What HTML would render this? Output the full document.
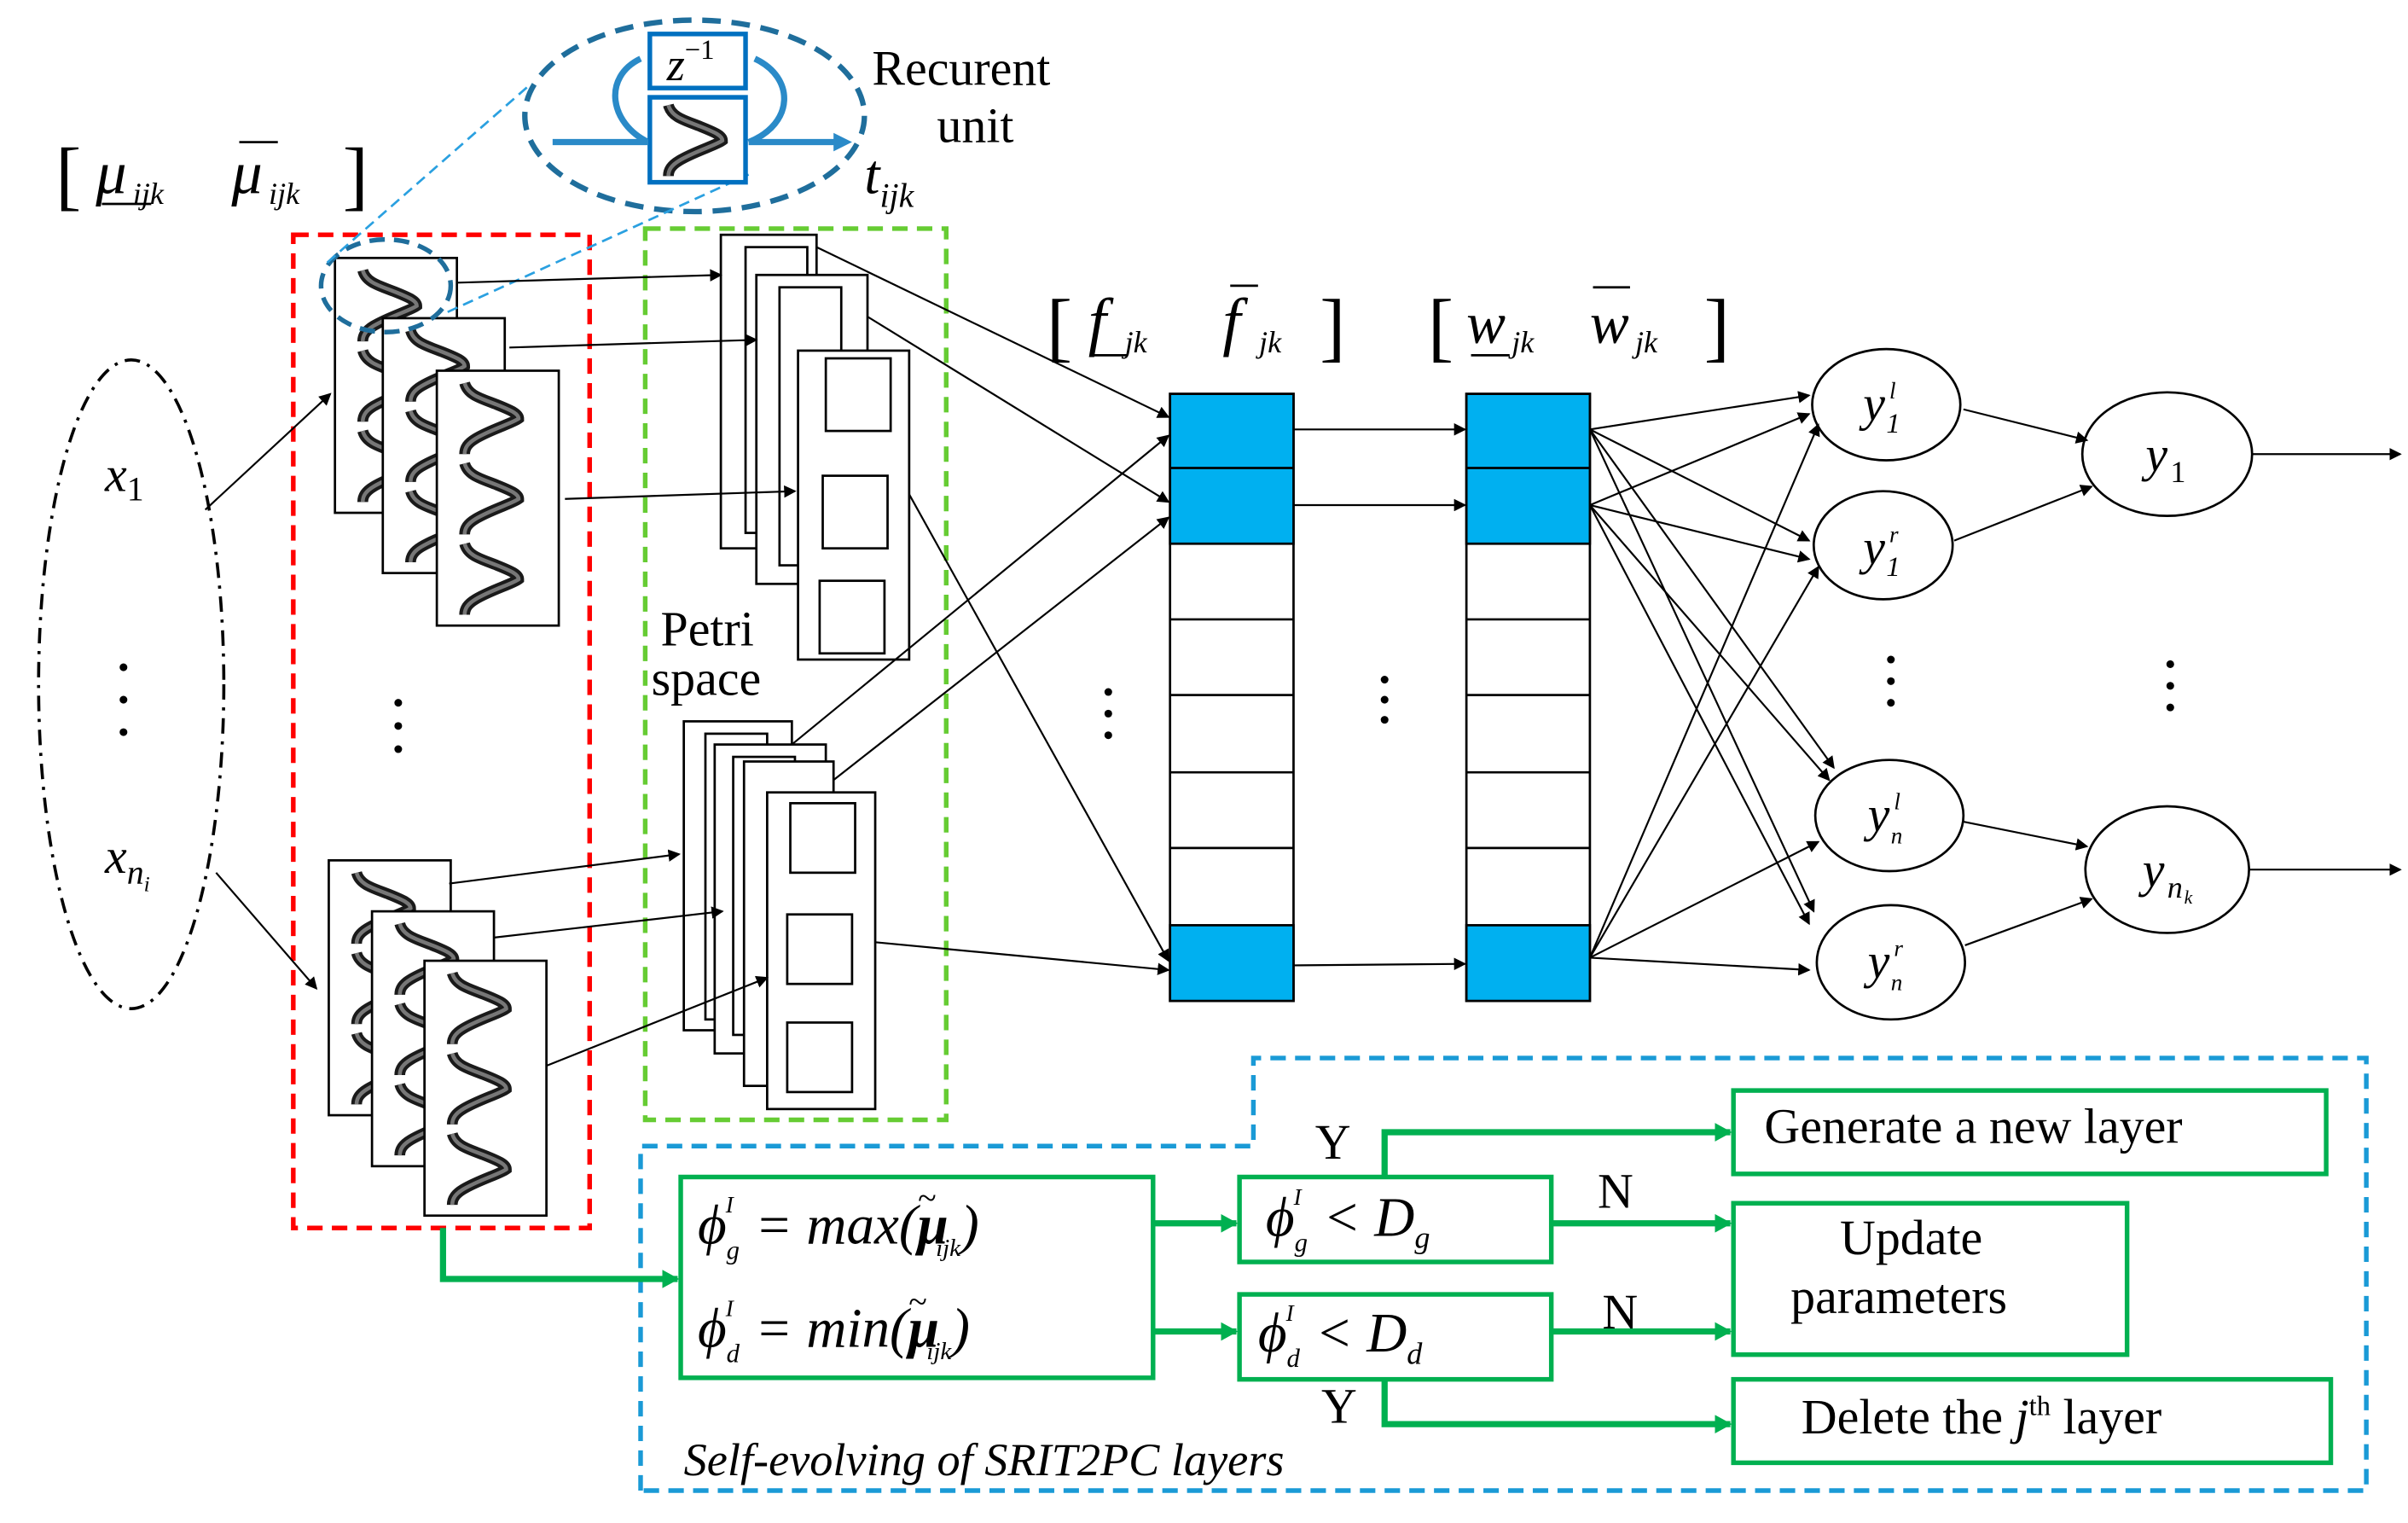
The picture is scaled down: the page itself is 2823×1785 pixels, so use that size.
<!DOCTYPE html>
<html><head><meta charset="utf-8"><style>html,body{margin:0;padding:0;background:#fff}svg{display:block}</style></head>
<body>
<svg width="2823" height="1785" viewBox="0 0 1560 986" preserveAspectRatio="none" xmlns="http://www.w3.org/2000/svg" font-family="'Liberation Serif', serif">
<defs>
<marker id="a" markerWidth="8" markerHeight="8" refX="7" refY="4" orient="auto" markerUnits="userSpaceOnUse"><path d="M0,0 L8,4 L0,8 z" fill="#000"/></marker>
<marker id="g" markerWidth="12" markerHeight="12" refX="10" refY="6" orient="auto" markerUnits="userSpaceOnUse"><path d="M0,0 L11,6 L0,12 z" fill="#00b050"/></marker>
<g id="sig"><path d="M3,2 C5,10 14,12 24,16 C34,20 38,22 38,25 C34,28 20,32 10,38 C5,41 3,44 3,48" fill="none" stroke="#1a1a1a" stroke-width="7"/><path d="M3,2 C5,10 14,12 24,16 C34,20 38,22 38,25 C34,28 20,32 10,38 C5,41 3,44 3,48" fill="none" stroke="#777" stroke-width="2.5"/></g>
<g id="mb"><rect x="0" y="0" width="79" height="165" fill="#fff" stroke="#000" stroke-width="1.5"/><use href="#sig" x="15" y="6"/><use href="#sig" x="15" y="58"/><use href="#sig" x="15" y="110"/></g>
</defs>
<rect width="1560" height="986" fill="#fff"/>
<ellipse cx="85" cy="443" rx="60" ry="210" fill="none" stroke="#000" stroke-width="2" stroke-dasharray="10,5,2,5"/>
<text x="68" y="318" font-size="32" font-style="italic">x<tspan font-size="22" dy="6" font-style="normal">1</tspan></text>
<circle cx="80" cy="432" r="2.5"/><circle cx="80" cy="453" r="2.5"/><circle cx="80" cy="474" r="2.5"/>
<text x="68" y="565" font-size="32" font-style="italic">x<tspan font-size="22" dy="7">n</tspan><tspan font-size="14" dy="5">i</tspan></text>
<text x="36" y="130" font-size="50">[</text>
<text x="62" y="125" font-size="40" font-style="italic">μ<tspan font-size="20" dy="7" dx="4">ijk</tspan></text>
<line x1="66" y1="132" x2="98" y2="132" stroke="#000" stroke-width="1.5"/>
<text x="150" y="125" font-size="40" font-style="italic">μ<tspan font-size="20" dy="7" dx="4">ijk</tspan></text>
<line x1="155" y1="92" x2="180" y2="92" stroke="#000" stroke-width="1.5"/>
<text x="222" y="130" font-size="50">]</text>
<rect x="190" y="152" width="192" height="643" fill="none" stroke="#f00" stroke-width="3" stroke-dasharray="10,6"/>
<rect x="418" y="148" width="195" height="577" fill="none" stroke="#66cc33" stroke-width="3" stroke-dasharray="10,6"/>
<use href="#mb" x="217" y="167"/><use href="#mb" x="248" y="206"/><use href="#mb" x="283" y="240"/>
<use href="#mb" x="213" y="557"/><use href="#mb" x="241" y="590"/><use href="#mb" x="275" y="622"/>
<circle cx="258" cy="455" r="2.5"/><circle cx="258" cy="470" r="2.5"/><circle cx="258" cy="485" r="2.5"/>
<ellipse cx="450" cy="75" rx="110" ry="62" fill="none" stroke="#1f6e9c" stroke-width="3.5" stroke-dasharray="12,7"/>
<ellipse cx="250" cy="185" rx="42" ry="30" fill="none" stroke="#1f6e9c" stroke-width="3" stroke-dasharray="10,6"/>
<line x1="212" y1="170" x2="342" y2="56" stroke="#2aa0e0" stroke-width="1.5" stroke-dasharray="7,4"/>
<line x1="290" y1="202" x2="485" y2="113" stroke="#2aa0e0" stroke-width="1.5" stroke-dasharray="7,4"/>
<path d="M420,92 C395,80 390,50 415,38" fill="none" stroke="#2a8ac8" stroke-width="4"/>
<path d="M485,92 C515,80 515,50 489,38" fill="none" stroke="#2a8ac8" stroke-width="4"/>
<rect x="421" y="22" width="62" height="35" fill="#fff" stroke="#0070c0" stroke-width="3"/>
<text x="432" y="52" font-size="30" font-style="italic">z<tspan font-size="18" dy="-14" font-style="normal">−1</tspan></text>
<rect x="421" y="63" width="62" height="55" fill="#fff" stroke="#0070c0" stroke-width="3"/>
<use href="#sig" x="430" y="66"/>
<line x1="358" y1="92" x2="420" y2="92" stroke="#2a8ac8" stroke-width="4"/>
<line x1="485" y1="92" x2="545" y2="92" stroke="#2a8ac8" stroke-width="4"/>
<path d="M540,86 L552,92 L540,98z" fill="#2a8ac8"/>
<text x="565" y="55" font-size="32">Recurent</text>
<text x="607" y="92" font-size="32">unit</text>
<text x="560" y="125" font-size="36" font-style="italic">t<tspan font-size="22" dy="9">ijk</tspan></text>
<g fill="#fff" stroke="#000" stroke-width="1.5">
<rect x="467" y="152" width="62" height="203"/><rect x="483" y="160" width="40" height="185"/>
<rect x="490" y="178" width="72" height="200"/><rect x="505" y="186" width="40" height="180"/>
<rect x="517" y="227" width="72" height="200"/>
<rect x="535" y="232" width="42" height="47"/><rect x="533" y="308" width="42" height="47"/><rect x="531" y="376" width="42" height="47"/>
<rect x="443" y="467" width="70" height="200"/><rect x="457" y="475" width="40" height="185"/>
<rect x="463" y="482" width="72" height="200"/><rect x="475" y="490" width="40" height="180"/>
<rect x="482" y="493" width="58" height="210"/>
<rect x="497" y="513" width="70" height="205"/>
<rect x="512" y="520" width="42" height="45"/><rect x="510" y="592" width="42" height="45"/><rect x="510" y="662" width="42" height="45"/>
</g>
<text x="428" y="418" font-size="32">Petri</text>
<text x="422" y="450" font-size="32">space</text>
<g stroke="#000" stroke-width="1.5">
<rect x="758" y="255" width="80" height="393" fill="#fff"/>
<rect x="758" y="255" width="80" height="97" fill="#00b0f0"/><rect x="758" y="599" width="80" height="49" fill="#00b0f0"/>
<line x1="758" y1="303" x2="838" y2="303"/><line x1="758" y1="401" x2="838" y2="401"/><line x1="758" y1="450" x2="838" y2="450"/><line x1="758" y1="500" x2="838" y2="500"/><line x1="758" y1="549" x2="838" y2="549"/>
<rect x="950" y="255" width="80" height="393" fill="#fff"/>
<rect x="950" y="255" width="80" height="97" fill="#00b0f0"/><rect x="950" y="599" width="80" height="49" fill="#00b0f0"/>
<line x1="950" y1="303" x2="1030" y2="303"/><line x1="950" y1="401" x2="1030" y2="401"/><line x1="950" y1="450" x2="1030" y2="450"/><line x1="950" y1="500" x2="1030" y2="500"/><line x1="950" y1="549" x2="1030" y2="549"/>
</g>
<text x="678" y="228" font-size="50">[</text>
<text x="705" y="222" font-size="42" font-style="italic">f<tspan font-size="20" dy="6" dx="12">jk</tspan></text>
<line x1="708" y1="230" x2="730" y2="230" stroke="#000" stroke-width="1.5"/>
<text x="792" y="222" font-size="42" font-style="italic">f<tspan font-size="20" dy="6" dx="12">jk</tspan></text>
<line x1="797" y1="185" x2="815" y2="185" stroke="#000" stroke-width="1.5"/>
<text x="855" y="228" font-size="50">]</text>
<text x="925" y="228" font-size="50">[</text>
<text x="950" y="222" font-size="38" font-style="italic">w<tspan font-size="20" dy="6" dx="4">jk</tspan></text>
<line x1="953" y1="230" x2="978" y2="230" stroke="#000" stroke-width="1.5"/>
<text x="1030" y="222" font-size="38" font-style="italic">w<tspan font-size="20" dy="6" dx="4">jk</tspan></text>
<line x1="1032" y1="186" x2="1056" y2="186" stroke="#000" stroke-width="1.5"/>
<text x="1104" y="228" font-size="50">]</text>
<g fill="#000"><circle cx="718" cy="448" r="2.5"/><circle cx="718" cy="462" r="2.5"/><circle cx="718" cy="476" r="2.5"/>
<circle cx="897" cy="440" r="2.5"/><circle cx="897" cy="453" r="2.5"/><circle cx="897" cy="466" r="2.5"/>
<circle cx="1225" cy="427" r="2.5"/><circle cx="1225" cy="441" r="2.5"/><circle cx="1225" cy="455" r="2.5"/>
<circle cx="1406" cy="430" r="2.5"/><circle cx="1406" cy="444" r="2.5"/><circle cx="1406" cy="458" r="2.5"/></g>
<g fill="#fff" stroke="#000" stroke-width="1.5">
<ellipse cx="1222" cy="262" rx="48" ry="36"/><ellipse cx="1220" cy="353" rx="45" ry="35"/>
<ellipse cx="1224" cy="528" rx="48" ry="36"/><ellipse cx="1225" cy="623" rx="48" ry="37"/>
<ellipse cx="1404" cy="294" rx="55" ry="40"/><ellipse cx="1404" cy="563" rx="53" ry="41"/>
</g>
<g font-style="italic">
<text x="1207" y="272" font-size="32">y</text><text x="1222" y="280" font-size="18">1</text><text x="1224" y="258" font-size="15">l</text>
<text x="1207" y="365" font-size="32">y</text><text x="1222" y="373" font-size="18">1</text><text x="1224" y="351" font-size="15">r</text>
<text x="1210" y="538" font-size="32">y</text><text x="1225" y="546" font-size="15">n</text><text x="1227" y="524" font-size="15">l</text>
<text x="1210" y="633" font-size="32">y</text><text x="1225" y="641" font-size="15">n</text><text x="1227" y="619" font-size="15">r</text>
<text x="1390" y="305" font-size="32">y</text><text x="1406" y="312" font-size="20" font-style="normal">1</text>
<text x="1388" y="574" font-size="32">y</text><text x="1404" y="581" font-size="20">n</text><text x="1415" y="585" font-size="12">k</text>
</g>
<g stroke="#000" stroke-width="1.2" marker-end="url(#a)">
<line x1="133" y1="330" x2="214" y2="255"/><line x1="140" y1="565" x2="205" y2="640"/>
<line x1="296" y1="183" x2="467" y2="178"/><line x1="330" y1="225" x2="490" y2="220"/><line x1="366" y1="323" x2="515" y2="318"/>
<line x1="291" y1="572" x2="440" y2="553"/><line x1="320" y1="607" x2="468" y2="590"/><line x1="354" y1="690" x2="497" y2="633"/>
<line x1="529" y1="160" x2="757" y2="270"/><line x1="562" y1="205" x2="757" y2="325"/><line x1="589" y1="320" x2="757" y2="622"/>
<line x1="513" y1="482" x2="757" y2="282"/><line x1="540" y1="505" x2="757" y2="335"/><line x1="567" y1="610" x2="757" y2="628"/>
<line x1="838" y1="278" x2="949" y2="278"/><line x1="838" y1="327" x2="949" y2="327"/><line x1="838" y1="625" x2="949" y2="624"/>
<line x1="1030" y1="278" x2="1172" y2="256"/><line x1="1030" y1="278" x2="1172" y2="350"/><line x1="1030" y1="278" x2="1188" y2="497"/><line x1="1030" y1="278" x2="1175" y2="590"/>
<line x1="1030" y1="327" x2="1172" y2="268"/><line x1="1030" y1="327" x2="1172" y2="362"/><line x1="1030" y1="327" x2="1185" y2="505"/><line x1="1030" y1="327" x2="1172" y2="598"/>
<line x1="1030" y1="620" x2="1178" y2="275"/><line x1="1030" y1="620" x2="1178" y2="367"/><line x1="1030" y1="620" x2="1178" y2="545"/><line x1="1030" y1="620" x2="1172" y2="628"/>
<line x1="1272" y1="265" x2="1352" y2="285"/><line x1="1266" y1="350" x2="1355" y2="315"/>
<line x1="1272" y1="532" x2="1352" y2="548"/><line x1="1273" y1="612" x2="1355" y2="582"/>
<line x1="1459" y1="294" x2="1555" y2="294"/><line x1="1457" y1="563" x2="1555" y2="563"/>
</g>
<path d="M415,965 L415,742 L812,742 L812,685 L1533,685 L1533,965 Z" fill="none" stroke="#1a9ad6" stroke-width="3" stroke-dasharray="10,6"/>
<g fill="#fff" stroke="#00b050" stroke-width="3">
<rect x="441" y="762" width="306" height="130"/>
<rect x="803" y="762" width="202" height="55"/><rect x="803" y="838" width="202" height="55"/>
<rect x="1123" y="706" width="384" height="54"/><rect x="1123" y="779" width="255" height="98"/><rect x="1123" y="893" width="387" height="54"/>
</g>
<g stroke="#00b050" stroke-width="4" fill="none" marker-end="url(#g)">
<polyline points="287,795 287,828 439,828"/>
<line x1="747" y1="792" x2="801" y2="792"/><line x1="747" y1="862" x2="801" y2="862"/>
<line x1="1005" y1="792" x2="1121" y2="792"/><line x1="1005" y1="862" x2="1121" y2="862"/>
<polyline points="897,762 897,733 1121,733"/><polyline points="897,893 897,922 1121,922"/>
</g>
<g font-size="32">
<text x="852" y="750">Y</text><text x="1035" y="782">N</text><text x="1038" y="860">N</text><text x="856" y="921">Y</text>
<text x="1143" y="740">Generate a new layer</text>
<text x="1192" y="812">Update</text><text x="1160" y="850">parameters</text>
<text x="1167" y="928">Delete the <tspan font-style="italic">j</tspan><tspan font-size="18" dy="-12">th</tspan><tspan dy="12"> layer</tspan></text>
<text x="443" y="955" font-style="italic" font-size="30">Self-evolving of SRIT2PC layers</text>
</g>
<g font-style="italic" font-size="36">
<text x="452" y="805">ϕ<tspan font-size="17" dy="10">g</tspan><tspan font-size="15" dy="-30" dx="-9">I</tspan><tspan dy="20" dx="14">= max(</tspan><tspan font-weight="bold">μ</tspan><tspan font-size="22" dx="-20" dy="-22">~</tspan><tspan font-size="16" dy="30" dx="0">ijk</tspan><tspan dy="-8">)</tspan></text>
<text x="452" y="872">ϕ<tspan font-size="17" dy="10">d</tspan><tspan font-size="15" dy="-30" dx="-9">I</tspan><tspan dy="20" dx="14">= min(</tspan><tspan font-weight="bold">μ</tspan><tspan font-size="22" dx="-20" dy="-22">~</tspan><tspan font-size="16" dy="30" dx="0">ijk</tspan><tspan dy="-8">)</tspan></text>
<text x="820" y="800">ϕ<tspan font-size="17" dy="10">g</tspan><tspan font-size="15" dy="-30" dx="-9">I</tspan><tspan dy="20" dx="14">&lt; D</tspan><tspan font-size="20" dy="8">g</tspan></text>
<text x="815" y="875">ϕ<tspan font-size="17" dy="10">d</tspan><tspan font-size="15" dy="-30" dx="-9">I</tspan><tspan dy="20" dx="14">&lt; D</tspan><tspan font-size="20" dy="8">d</tspan></text>
</g>
</svg>
</body></html>
